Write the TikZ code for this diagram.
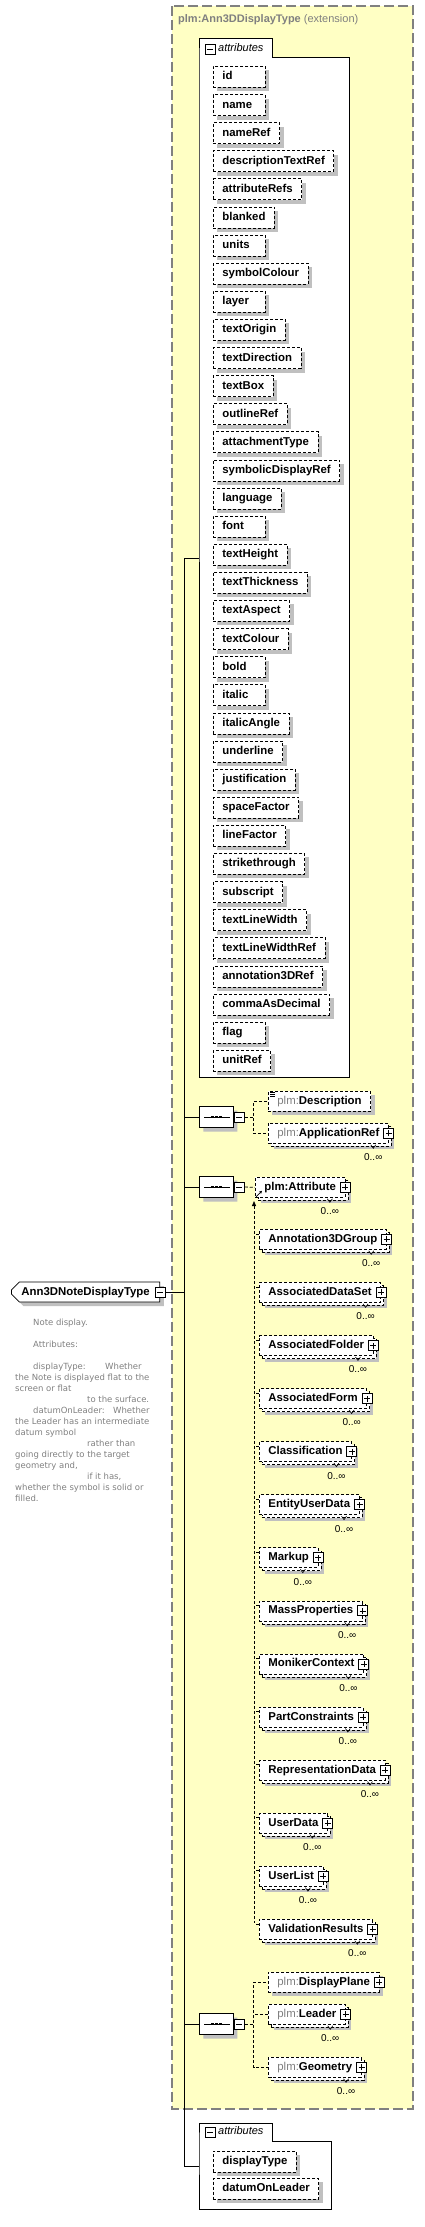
\documentclass[tikz,border=0pt]{standalone}
\usepackage{fontspec}
\setmainfont{Liberation Sans}
\newfontfamily\descfont{DejaVu Sans}
\usetikzlibrary{shapes.misc,shadows,arrows.meta}

\definecolor{extyellow}{RGB}{255,255,196}
\definecolor{extgray}{RGB}{128,128,128}
\definecolor{shadowgray}{RGB}{192,192,192}
\definecolor{txtgray}{RGB}{128,128,128}

\newcommand{\elemfont}{\fontsize{11.4}{13}\selectfont\bfseries}
\newcommand{\plm}{\textcolor{txtgray}{\mdseries plm:}}
\newsavebox{\attrbx}
\newcommand{\attrtext}[1]{\sbox{\attrbx}{#1}\ifdim\wd\attrbx<34pt\makebox[34pt][l]{#1}\else#1\fi}

% element that may occur 0..oo times
\newcommand{\multielem}[4]{%
  \node[elemmulti] (#1) at (#2,#3) {#4\hspace{1.5pt}};
  \node[plusbox] (#1p) at (#1.east) {};
  \draw[line width=0.6pt] ([xshift=-18pt,yshift=-1pt]#1.south east) -- ++(2.5pt,-3.5pt) -- ++(2.5pt,3.5pt);
  \node[occur] (#1o) at ([xshift=-15.5pt,yshift=-13.5pt]#1.south east) {0..∞};
}
\newcommand{\seqdots}[1]{%
  \draw[line width=0.8pt] ([xshift=5pt]#1.west) -- ([xshift=-4pt]#1.east);
  \foreach \dx in {-4,0,4}
    \fill ([xshift=\dx pt-1.2pt,yshift=-1.2pt]#1.center) rectangle ++(2.4pt,2.4pt);
}

\tikzset{
  treeline/.style={draw, line width=0.8pt},
  seqline/.style={draw, line width=0.8pt, dash pattern=on 3pt off 2pt},
  panel/.style={draw, line width=0.8pt, fill=white},
  elembase/.style={draw, line width=0.8pt, dash pattern=on 3pt off 2pt, fill=white,
    font=\elemfont, inner xsep=9pt, inner ysep=0pt, minimum height=20pt,
    text height=8pt, text depth=2pt, anchor=north west},
  elem/.style={elembase, drop shadow={shadow xshift=4pt, shadow yshift=-4pt, fill=shadowgray, opacity=1}},
  elemmulti/.style={elembase, drop shadow={shadow xshift=6pt, shadow yshift=-6pt, fill=shadowgray, opacity=1},
    copy shadow={shadow xshift=3pt, shadow yshift=-3pt}},
  attrbox/.style={elem, minimum height=21pt},
  occur/.style={font=\fontsize{10}{12}\selectfont, inner sep=0pt},
  plusbox/.style={draw, solid, fill=white, line width=0.9pt, inner sep=0pt, minimum size=10pt,
    path picture={\draw[line width=0.8pt] (path picture bounding box.center) ++(-3pt,0) -- ++(6pt,0)
      (path picture bounding box.center) ++(0,-3pt) -- ++(0,6pt);}},
  minusbox/.style={draw, solid, fill=white, line width=0.9pt, inner sep=0pt, minimum size=10pt,
    path picture={\draw[line width=0.8pt] (path picture bounding box.center) ++(-3pt,0) -- ++(6pt,0);}},
  seqnode/.style={draw, solid, line width=0.8pt, fill=white, chamfered rectangle,
    chamfered rectangle xsep=5pt, chamfered rectangle ysep=5pt, minimum width=34pt,
    minimum height=21pt, inner sep=0pt, anchor=west,
    drop shadow={shadow xshift=4pt, shadow yshift=-4pt, fill=shadowgray, opacity=1}},
  mainelem/.style={draw, solid, line width=0.8pt, fill=white, chamfered rectangle,
    chamfered rectangle corners={north west,south west}, chamfered rectangle xsep=4pt,
    chamfered rectangle ysep=4pt, font=\elemfont, inner xsep=6pt, inner ysep=0pt,
    minimum height=20pt, text height=8pt, text depth=2pt, anchor=west,
    drop shadow={shadow xshift=4pt, shadow yshift=-4pt, fill=shadowgray, opacity=1}},
  desctext/.style={anchor=north west, align=left, inner sep=0pt, text=txtgray,
    font=\descfont\fontsize{8.5}{11}\selectfont},
}

\begin{document}
\begin{tikzpicture}[x=1pt, y=-1pt]
  \useasboundingbox (0,0) rectangle (424,2227);

  % extension frame
  \draw[fill=extyellow, draw=extgray, line width=1.3pt, dash pattern=on 10pt off 4pt]
    (172,6) rectangle (413,2109);
  \node[anchor=west, inner sep=0pt, text=txtgray, font=\fontsize{11}{13}\selectfont] (exttitle)
    at (178,20) {\textbf{plm:Ann3DDisplayType} (extension)};

  % inherited attributes
  \draw[panel] (199,57) -- (199,38) -- (272,38) -- (272,57) -- (349,57) -- (349,1077) -- (199,1077) -- cycle;
  \node[minusbox] (attrsm) at (210,49) {};
  \node[anchor=west, inner sep=0pt, font=\fontsize{11}{13}\selectfont\itshape] (attrslbl) at (218,48) {attributes};
  \foreach \a [count=\i from 0] in {id,name,nameRef,descriptionTextRef,attributeRefs,blanked,units,
      symbolColour,layer,textOrigin,textDirection,textBox,outlineRef,attachmentType,symbolicDisplayRef,
      language,font,textHeight,textThickness,textAspect,textColour,bold,italic,italicAngle,underline,
      justification,spaceFactor,lineFactor,strikethrough,subscript,textLineWidth,textLineWidthRef,
      annotation3DRef,commaAsDecimal,flag,unitRef}{
    \pgfmathsetmacro\ay{66+28.11*\i}
    \node[attrbox] (a\i) at (213,\ay) {\attrtext{\a}};
  }

  % main element
  \node[mainelem] (ann) at (11,1292) {Ann3DNoteDisplayType\hspace{6pt}};
  \node[minusbox] (annm) at (ann.east) {};
  \node[desctext] (anndoc) at (15,1319) {%
    \hspace*{18pt}Note display.\\[11pt]
    \hspace*{18pt}Attributes:\\[11pt]
    \makebox[90pt][l]{\hspace*{18pt}displayType:}Whether\\
    the Note is displayed flat to the\\
    screen or flat\\
    \hspace*{72pt}to the surface.\\
    \makebox[98pt][l]{\hspace*{18pt}datumOnLeader:}Whether\\
    the Leader has an intermediate\\
    datum symbol\\
    \hspace*{72pt}rather than\\
    going directly to the target\\
    geometry and,\\
    \hspace*{72pt}if it has,\\
    whether the symbol is solid or\\
    filled.};

  % trunk
  \coordinate (trunktop) at (184,558);
  \coordinate (trunkbot) at (184,2166);
  \coordinate (attrsin) at (199,558);
  \coordinate (ownin) at (199,2166);
  \draw[treeline] (trunktop) -- (trunkbot);
  \draw[treeline] (trunktop) -- (attrsin);
  \draw[treeline] (trunkbot) -- (ownin);
  \draw[treeline] (annm.east) -- (annm.east -| trunktop);

  % first sequence
  \node[seqnode] (seqA) at (199,1117) {};
  \seqdots{seqA}
  \node[minusbox] (seqAm) at ([xshift=5.5pt]seqA.east) {};
  \draw[treeline] (seqA.west -| trunktop) -- (seqA.west);
  \node[elem] (desc) at (268,1091) {\plm Description};
  \foreach \k in {0,2,4} \draw[line width=0.7pt] ([xshift=2pt,yshift=-\k pt-1pt]desc.north west) -- ++(5pt,0);
  \multielem{appref}{268}{1123}{\plm ApplicationRef}
  \draw[seqline] (seqAm.east) -- ++(9pt,0) |- (desc.west);
  \draw[seqline] (seqAm.east) -- ++(9pt,0) |- (appref.west);

  % second sequence
  \node[seqnode] (seqB) at (199,1187) {};
  \seqdots{seqB}
  \node[minusbox] (seqBm) at ([xshift=5.5pt]seqB.east) {};
  \draw[treeline] (seqB.west -| trunktop) -- (seqB.west);
  \multielem{attr}{255}{1177}{plm:Attribute}
  \draw[seqline] (seqBm.east) -- (attr.west);
  \draw[line width=0.7pt, -{Stealth[length=3pt,width=3pt]}] ([xshift=1pt,yshift=1pt]attr.south west) -- ++(6pt,6pt);

  % substitution group
  \coordinate (subtop) at (254,1201);
  \coordinate (subbot) at (254,1923);
  \draw[seqline, {Triangle[length=5pt,width=4pt]}-] (subtop) -- (subbot);
  \foreach \n [count=\i] in {Annotation3DGroup,AssociatedDataSet,AssociatedFolder,AssociatedForm,
      Classification,EntityUserData,Markup,MassProperties,MonikerContext,PartConstraints,
      RepresentationData,UserData,UserList,ValidationResults}{
    \pgfmathsetmacro\my{1229+53.07*(\i-1)}
    \multielem{m\i}{259}{\my}{\n}
    \draw[seqline] ([yshift=-5pt]m\i.north west) -- ++(-5pt,0);
  }

  % third sequence
  \node[seqnode] (seqC) at (199,2024) {};
  \seqdots{seqC}
  \node[minusbox] (seqCm) at ([xshift=5.5pt]seqC.east) {};
  \draw[treeline] (seqC.west -| trunktop) -- (seqC.west);
  \node[elem] (dplane) at (268,1972) {\plm DisplayPlane\hspace{1.5pt}};
  \node[plusbox] (dplanep) at (dplane.east) {};
  \multielem{leader}{268}{2004}{\plm Leader}
  \multielem{geom}{268}{2057}{\plm Geometry}
  \draw[seqline] (seqCm.east) -- ++(9pt,0) |- (dplane.west);
  \draw[seqline] (seqCm.east) -- ++(9pt,0) |- (leader.west);
  \draw[seqline] (seqCm.east) -- ++(9pt,0) |- (geom.west);

  % own attributes
  \draw[panel] (199,2141) -- (199,2123) -- (272,2123) -- (272,2141) -- (331,2141) -- (331,2209) -- (199,2209) -- cycle;
  \node[minusbox] (ownm) at (210,2132) {};
  \node[anchor=west, inner sep=0pt, font=\fontsize{11}{13}\selectfont\itshape] (ownlbl) at (218,2131) {attributes};
  \node[attrbox] (dtype) at (213,2151) {\attrtext{displayType}};
  \node[attrbox] (datum) at (213,2178) {\attrtext{datumOnLeader}};
\end{tikzpicture}
\end{document}
